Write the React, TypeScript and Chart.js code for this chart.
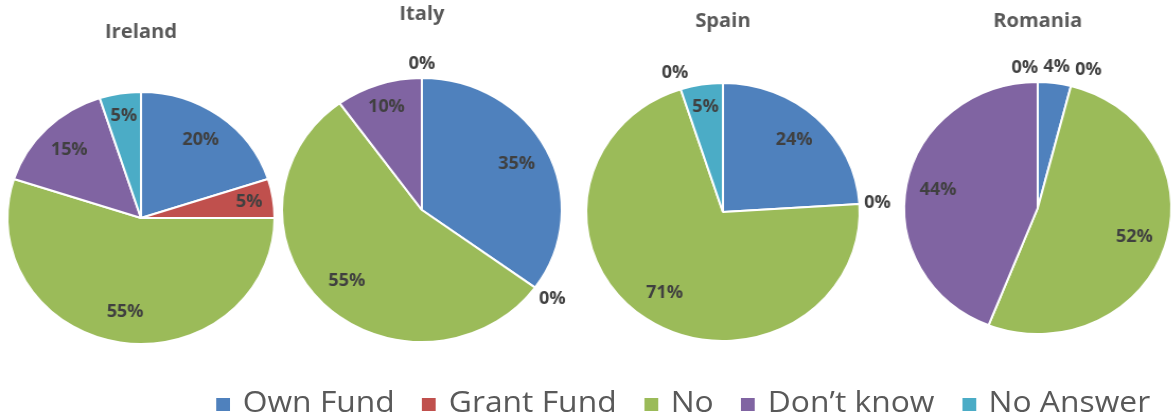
import React, { useEffect, useRef } from 'react';
import { Chart, registerables } from 'chart.js';

Chart.register(...registerables);

// ---- data ----
const categories = ['Own Fund', 'Grant Fund', 'No', 'Don\u2019t know', 'No Answer'];
const countries = ['Ireland', 'Italy', 'Spain', 'Romania'];
const irelandValues = [20, 5, 55, 15, 5];
const italyValues = [35, 0, 55, 10, 0];
const spainValues = [24, 0, 71, 0, 5];
const romaniaValues = [4, 0, 52, 44, 0];
const seriesValues = [irelandValues, italyValues, spainValues, romaniaValues];

// ---- styles / layout ----
const sliceColors = ['#4F81BD', '#C0504D', '#9BBB59', '#8064A2', '#4BACC6'];
const STRETCH = 1.06;
const CANVAS_H = 370;
const PAD_X = 60;
const pieLayout = [
  { cx: 133, cy: 218, r: 126, titleY: 33 },
  { cx: 398, cy: 210, r: 132, titleY: 15 },
  { cx: 682, cy: 212, r: 129, titleY: 22 },
  { cx: 979, cy: 208, r: 126, titleY: 22 },
];

const titlePlugin = {
  id: 'pieTitle',
  afterDraw(chart: any, _args: any, opts: any) {
    const ctx = chart.ctx;
    ctx.save();
    ctx.font = 'bold 19px "Open Sans"';
    ctx.fillStyle = '#595959';
    ctx.textAlign = 'center';
    ctx.textBaseline = 'middle';
    ctx.fillText(opts.text, chart.width / 2, opts.y);
    ctx.restore();
  },
};

const labelPlugin = {
  id: 'pieLabels',
  afterDatasetsDraw(chart: any) {
    const ctx = chart.ctx;
    const meta = chart.getDatasetMeta(0);
    const values = chart.data.datasets[0].data as number[];
    ctx.save();
    ctx.font = 'bold 17px "Open Sans"';
    ctx.fillStyle = '#404040';
    ctx.textAlign = 'center';
    ctx.textBaseline = 'middle';
    const placed: { x: number; y: number; w: number }[] = [];
    meta.data.forEach((arc: any, i: number) => {
      const v = values[i];
      const p = arc.getProps(['x', 'y', 'startAngle', 'endAngle', 'outerRadius'], true);
      const mid = (p.startAngle + p.endAngle) / 2;
      const text = v + '%';
      if (v >= 5) {
        const f = v <= 10 ? 0.82 : 0.76;
        ctx.fillText(text, p.x + Math.cos(mid) * p.outerRadius * f, p.y + Math.sin(mid) * p.outerRadius * f);
      }
    });
    meta.data.forEach((arc: any, i: number) => {
      const v = values[i];
      if (v >= 5) return;
      const p = arc.getProps(['x', 'y', 'startAngle', 'endAngle', 'outerRadius'], true);
      const mid = (p.startAngle + p.endAngle) / 2;
      const text = v + '%';
      const w = ctx.measureText(text).width;
      const h = 20;
      const d = p.outerRadius + 4 + Math.abs(Math.cos(mid)) * w / 2 + Math.abs(Math.sin(mid)) * h / 2;
      let x = p.x + Math.cos(mid) * d;
      const y = p.y + Math.sin(mid) * d;
      const a = mid + Math.PI / 2;
      const dir = a > Math.PI + 1e-6 ? -1 : 1;
      for (const b of placed) {
        if (Math.abs(y - b.y) < h && Math.abs(x - b.x) < (w + b.w) / 2 + 5) {
          x = dir > 0 ? b.x + (b.w + w) / 2 + 5 : b.x - (b.w + w) / 2 - 5;
        }
      }
      placed.push({ x, y, w });
      ctx.fillText(text, x, y);
    });
    ctx.restore();
  },
};

function PieChart({ index }: { index: number }) {
  const ref = useRef<HTMLCanvasElement | null>(null);
  const L = pieLayout[index];
  const W = 2 * L.r + 2 * PAD_X;
  useEffect(() => {
    if (!ref.current) return;
    const chart = new Chart(ref.current, {
      type: 'pie',
      data: {
        labels: categories,
        datasets: [
          {
            data: seriesValues[index],
            backgroundColor: sliceColors,
            borderColor: '#ffffff',
            borderWidth: 2,
          },
        ],
      },
      options: {
        responsive: false,
        animation: false,
        events: [],
        layout: {
          padding: {
            left: PAD_X - 1,
            right: PAD_X - 1,
            top: L.cy - L.r - 1,
            bottom: CANVAS_H - L.cy - L.r - 1,
          },
        },
        plugins: {
          legend: { display: false },
          tooltip: { enabled: false },
          pieTitle: { text: countries[index], y: L.titleY },
        } as any,
      },
      plugins: [titlePlugin, labelPlugin],
    });
    return () => chart.destroy();
  }, []);
  return (
    <canvas
      ref={ref}
      width={W}
      height={CANVAS_H}
      style={{ position: 'absolute', left: L.cx - L.r - PAD_X, top: 0, width: W, height: CANVAS_H }}
    />
  );
}

export default function App() {
  return (
    <div
      style={{
        position: 'fixed',
        left: 0,
        top: 0,
        width: 1173,
        height: 419,
        background: '#ffffff',
        overflow: 'hidden',
      }}
    >
      <div
        style={{
          position: 'absolute',
          left: 0,
          top: 0,
          width: 1173 / STRETCH,
          height: 419,
          transform: `scaleX(${STRETCH})`,
          transformOrigin: '0 0',
        }}
      >
        {countries.map((c, i) => (
          <PieChart key={c} index={i} />
        ))}
        <div
          style={{
            position: 'absolute',
            left: 204,
            top: 382,
            display: 'flex',
            alignItems: 'flex-start',
            fontFamily: '"Open Sans", sans-serif',
            fontSize: 30,
            lineHeight: '38px',
            color: '#595959',
            whiteSpace: 'nowrap',
          }}
        >
          {categories.map((c, i) => (
            <div key={c} style={{ display: 'flex', alignItems: 'flex-start', marginRight: i < categories.length - 1 ? 26 : 0 }}>
              <span
                style={{
                  display: 'inline-block',
                  width: 13,
                  height: 13,
                  marginTop: 16,
                  marginRight: 12,
                  background: sliceColors[i],
                }}
              />
              <span>{c}</span>
            </div>
          ))}
        </div>
      </div>
    </div>
  );
}
